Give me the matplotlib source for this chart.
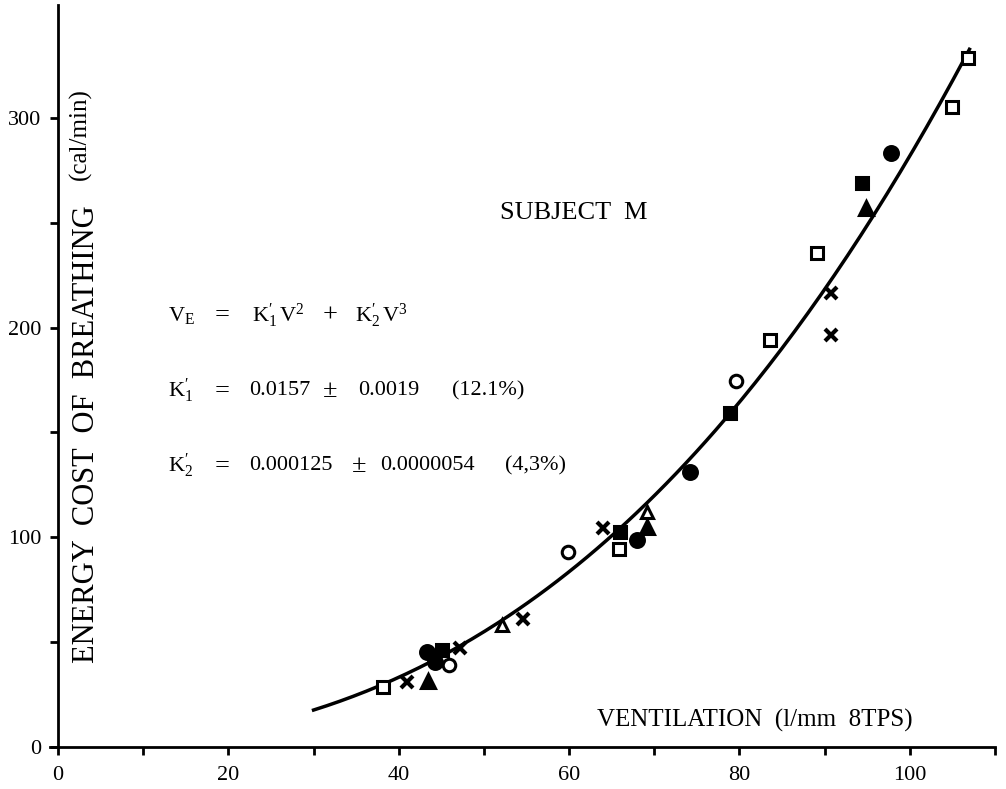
import numpy as np
import matplotlib
matplotlib.use("Agg")
import matplotlib.pyplot as plt

plt.rcParams['font.family'] = ['Liberation Serif', 'DejaVu Serif']
plt.rcParams['mathtext.fontset'] = 'custom'
plt.rcParams['mathtext.rm'] = 'Liberation Serif'
plt.rcParams['mathtext.it'] = 'Liberation Serif:italic'

# fitted coefficients printed on the chart
K1 = 0.0157
K2 = 0.000125

# data points, grouped by marker type (ventilation, energy cost)
open_sq_x = [38.1, 65.8, 83.6, 89.1, 104.9, 106.8]
open_sq_y = [28.5, 94.3, 194.1, 235.8, 305.3, 328.7]
fill_sq_x = [45.1, 66.0, 78.9, 94.4]
fill_sq_y = [46.2, 102.5, 159.3, 269.0]
open_ci_x = [45.9, 59.9, 79.6]
open_ci_y = [39.0, 93.0, 174.6]
fill_ci_x = [43.3, 44.2, 68.0, 74.2, 97.8]
fill_ci_y = [45.2, 40.4, 98.7, 131.1, 283.4]
open_tr_x = [52.1, 69.2]
open_tr_y = [58.1, 112.1]
fill_tr_x = [43.4, 69.2, 94.9]
fill_tr_y = [31.4, 104.9, 257.1]
cross_x = [41.0, 47.2, 54.6, 64.0, 90.8, 90.8]
cross_y = [30.9, 47.1, 61.0, 104.4, 216.7, 196.4]

x_ticks = [0, 10, 20, 30, 40, 50, 60, 70, 80, 90, 100, 110]
x_labels = ['0', '', '20', '', '40', '', '60', '', '80', '', '100', '']
y_ticks = [0, 50, 100, 150, 200, 250, 300]
y_labels = ['0', '', '100', '', '200', '', '300']

# equation block: one list of text pieces per line
eq_ve = [r'$\mathrm{V_E}$', '=', r'$\mathrm{K_1^{\prime}\,V^2}$', '+', r'$\mathrm{K_2^{\prime}\,V^3}$']
eq_k1 = [r'$\mathrm{K_1^{\prime}}$', '=', '0.0157', '±', '0.0019', '(12.1%)']
eq_k2 = [r'$\mathrm{K_2^{\prime}}$', '=', '0.000125', '±', '0.0000054', '(4,3%)']
operators = ['=', '+', '±']

fig = plt.figure(figsize=(10.06, 7.89), dpi=100)
ax = fig.add_axes([49.5 / 1006, 0.0536, 945.5 / 1006, 0.940])

# fitted curve
v = np.linspace(30, 107, 200)
ax.plot(v, K1 * v**2 + K2 * v**3, color='black', lw=2.5)

ms = 9
mew = 2.2
ax.plot(open_sq_x, open_sq_y, 's', ms=ms, mfc='white', mec='black', mew=mew)
ax.plot(fill_sq_x, fill_sq_y, 's', ms=ms, mfc='black', mec='black', mew=mew)
ax.plot(open_ci_x, open_ci_y, 'o', ms=ms, mfc='white', mec='black', mew=mew)
ax.plot(fill_ci_x, fill_ci_y, 'o', ms=ms + 1, mfc='black', mec='black', mew=mew)
ax.plot(open_tr_x, open_tr_y, '^', ms=ms, mfc='white', mec='black', mew=mew)
ax.plot(fill_tr_x, fill_tr_y, '^', ms=ms + 1, mfc='black', mec='black', mew=mew)
ax.plot(cross_x, cross_y, 'x', ms=8, mec='black', mew=3)

ax.set_xlim(-1, 110)
ax.set_ylim(0, 354)
ax.spines['top'].set_visible(False)
ax.spines['right'].set_visible(False)
ax.spines['left'].set_position(('data', 0))
ax.spines['left'].set_linewidth(2)
ax.spines['bottom'].set_linewidth(2)

ax.set_xticks(x_ticks)
ax.set_xticklabels(x_labels)
ax.set_yticks(y_ticks)
ax.set_yticklabels(y_labels)
ax.tick_params(axis='both', direction='out', length=6, width=2, labelsize=16)
ax.tick_params(axis='x', pad=8)
ax.tick_params(axis='y', pad=6)

# axis titles drawn inside the plot area, as in the original
ax.text(3.4, 40, 'ENERGY  COST  OF  BREATHING', rotation=90, rotation_mode='anchor',
        ha='left', va='center', fontsize=22)
ax.text(2.6, 270.5, '(cal/min)', rotation=90, rotation_mode='anchor',
        ha='left', va='center', fontsize=18)
ax.text(63.3, 12.7, 'VENTILATION  (l/mm  8TPS)', ha='left', va='center', fontsize=18)

ax.text(51.9, 254.7, 'SUBJECT  M', ha='left', va='center', fontsize=19)

for parts, xs, yc in [(eq_ve, [12.9, 18.4, 22.8, 31.1, 34.9], 206),
                      (eq_k1, [12.9, 18.4, 22.4, 31.1, 35.2, 46.2], 170),
                      (eq_k2, [12.9, 18.4, 22.4, 34.5, 37.8, 52.5], 134)]:
    for s, xp in zip(parts, xs):
        size = 19 if s in operators else 16
        ax.text(xp, yc, s, ha='left', va='center', fontsize=size)

fig.savefig('out.png', dpi=100)
